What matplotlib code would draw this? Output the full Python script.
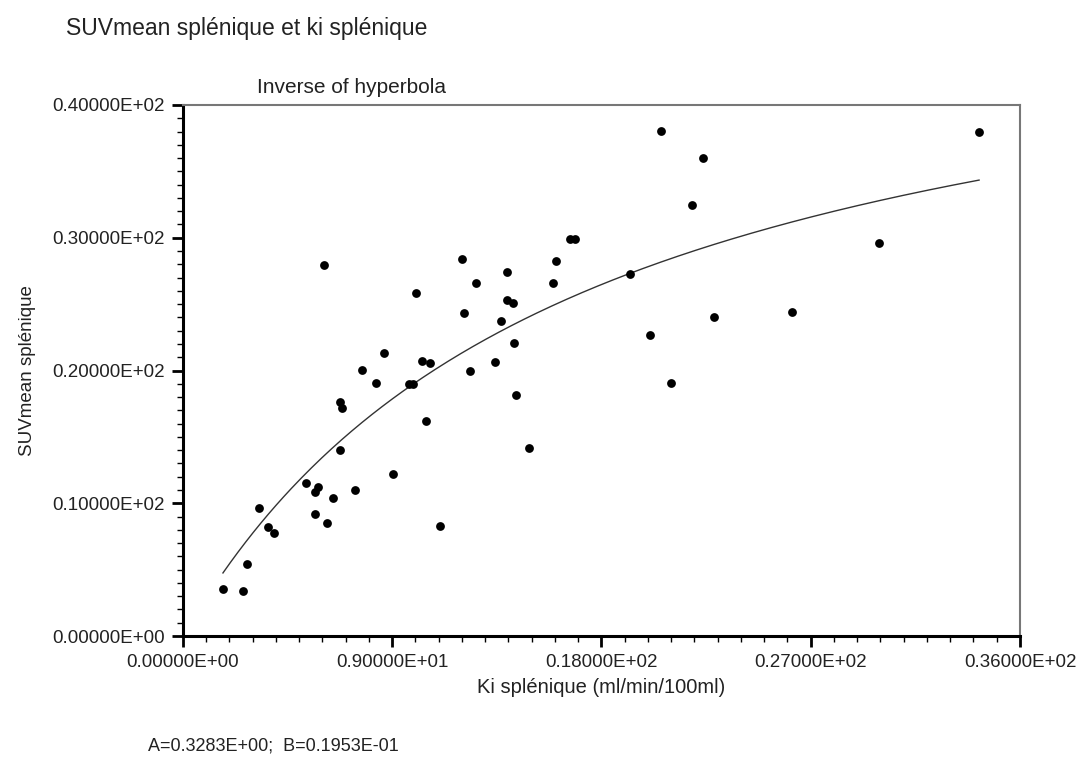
import numpy as np
import matplotlib
matplotlib.use('Agg')
import matplotlib.pyplot as plt
import matplotlib.ticker as tck

plt.rcParams['font.family'] = ['Liberation Sans', 'DejaVu Sans']

# Ki splénique (ml/min/100ml)
ki = [1.72, 2.58, 2.75, 3.27, 3.66, 3.91,
      5.29, 5.68, 5.81, 5.68, 6.19, 6.45, 7.40, 9.03, 11.05,
      6.75, 6.75, 6.84, 10.45, 9.72, 9.89, 8.30, 7.70, 8.65, 10.28, 10.62,
      12.34, 13.42, 14.32, 14.88,
      6.06, 10.02, 12.00, 12.60, 12.09, 13.68, 14.24, 13.94, 13.94, 14.19,
      15.91, 16.04, 16.65, 16.86, 19.23, 20.09, 20.99, 22.84, 21.89, 22.37,
      20.56, 26.19, 29.94, 34.24]

# SUVmean splénique
suv = [3.54, 3.39, 5.42, 9.64, 8.21, 7.76,
       11.53, 10.85, 11.22, 9.19, 8.51, 10.40, 11.00, 12.20, 8.29,
       14.01, 17.63, 17.18, 16.20, 18.98, 18.98, 19.06, 20.04, 21.32, 20.72, 20.56,
       19.96, 20.64, 18.15, 14.16,
       27.95, 25.84, 28.40, 26.59, 24.33, 23.73, 22.07, 27.42, 25.31, 25.08,
       26.59, 28.25, 29.91, 29.91, 27.27, 22.67, 19.06, 24.03, 32.47, 36.01,
       38.04, 24.41, 29.60, 37.97]

# fitted parameters printed under the chart (y = x / (A + B x))
A = 0.3283
B = 0.01953

x_ticks = [0, 9, 18, 27, 36]
y_ticks = [0, 10, 20, 30, 40]


def sci_label(v, pos=None):
    if v == 0:
        return '0.00000E+00'
    e = int(np.floor(np.log10(abs(v)))) + 1
    m = v / 10.0 ** e
    return f'{m:.5f}E{e:+03d}'


fig = plt.figure(figsize=(10.82, 7.58), dpi=100)
ax = fig.add_axes([0.1691, 0.1609, 0.7736, 0.7006])

ax.scatter(ki, suv, s=40, color='black', zorder=3, linewidths=0)

xf = np.linspace(min(ki), max(ki), 300)
ax.plot(xf, xf / (A + B * xf), color='#333333', linewidth=1.0, zorder=2)

ax.set_xlim(0, 36)
ax.set_ylim(0, 40)

ax.set_xticks(x_ticks)
ax.set_yticks(y_ticks)
ax.xaxis.set_minor_locator(tck.MultipleLocator(1))
ax.yaxis.set_minor_locator(tck.MultipleLocator(1))
ax.xaxis.set_major_formatter(tck.FuncFormatter(sci_label))
ax.yaxis.set_major_formatter(tck.FuncFormatter(sci_label))

ax.tick_params(which='major', direction='out', length=8, width=2, labelsize=13.5,
               labelcolor='#222222', pad=5)
ax.tick_params(which='minor', direction='out', length=4, width=1)

for side in ['left', 'bottom']:
    ax.spines[side].set_linewidth(2.2)
    ax.spines[side].set_color('black')
for side in ['top', 'right']:
    ax.spines[side].set_linewidth(1.5)
    ax.spines[side].set_color('#777777')

ax.set_xlabel('Ki splénique (ml/min/100ml)', fontsize=14.5, color='#222222', labelpad=5)
ax.set_ylabel('SUVmean splénique', fontsize=13.5, color='#222222', labelpad=12)

fig.text(0.061, 0.962, 'SUVmean splénique et ki splénique', fontsize=16.5,
         color='#222222', ha='left', va='center')
fig.text(0.325, 0.884, 'Inverse of hyperbola', fontsize=15,
         color='#222222', ha='center', va='center')
fig.text(0.137, 0.016, 'A=0.3283E+00;  B=0.1953E-01', fontsize=13,
         color='#222222', ha='left', va='center')

fig.savefig('out.png', dpi=100)
